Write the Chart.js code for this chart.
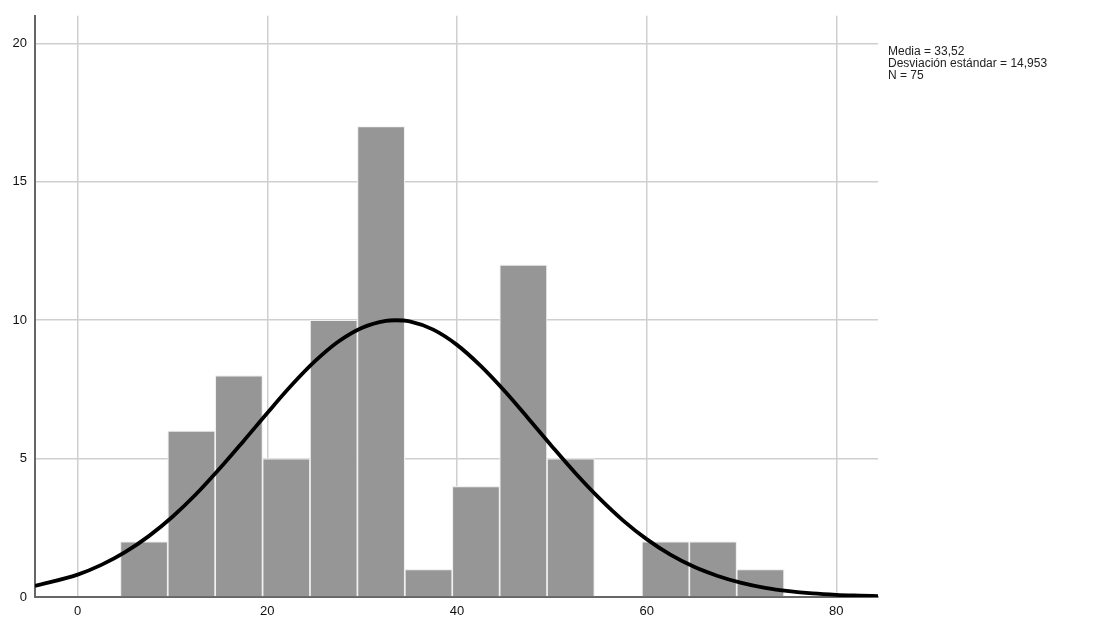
<!DOCTYPE html>
<html>
<head>
<meta charset="utf-8">
<script src="https://cdn.jsdelivr.net/npm/chart.js@4"></script>
<style>
body { margin: 0; background: #fff; }
#wrap { position: relative; width: 1105px; height: 619px; }
#stats { position: absolute; left: 888px; top: 45px; font: 12px "Liberation Sans", Arial, sans-serif; color: #222; line-height: 12px; }
</style>
</head>
<body>
<div id="wrap">
<canvas id="myChart" width="1105" height="619"></canvas>
<div id="stats">Media = 33,52<br>Desviación estándar = 14,953<br>N = 75</div>
</div>
<script>
// histogram bins (centres, width 5) and counts
var binCenters = [7, 12, 17, 22, 27, 32, 37, 42, 47, 52, 57, 62, 67, 72];
var counts = [2, 6, 8, 5, 10, 17, 1, 4, 12, 5, 0, 2, 2, 1];

// normal curve
var curveX = [-4.5, 0, 2.5, 5, 7.5, 10, 12.5, 15, 17.5, 20, 22.5, 25, 27.5, 30, 32.5, 33.5, 35, 37.5, 40, 42.5, 45, 47.5, 50, 52.5, 55, 57.5, 60, 62.5, 65, 67.5, 70, 72.5, 75, 77.5, 80, 82.5, 84.4];
var curveY = [0.4, 0.81, 1.16, 1.62, 2.2, 2.9, 3.72, 4.65, 5.64, 6.65, 7.63, 8.51, 9.23, 9.73, 9.98, 10.0, 9.96, 9.66, 9.11, 8.35, 7.45, 6.46, 5.45, 4.47, 3.57, 2.77, 2.09, 1.53, 1.09, 0.76, 0.51, 0.33, 0.21, 0.13, 0.08, 0.05, 0.03];

var xTicks = [0, 20, 40, 60, 80];
var yTicks = [0, 5, 10, 15, 20];

var barData = binCenters.map(function (c, i) { return { x: c, y: counts[i] }; });
var lineData = curveX.map(function (c, i) { return { x: c, y: curveY[i] }; });

var tickFont = { family: '"Liberation Sans", Arial, sans-serif', size: 13 };

var myChart = new Chart(document.getElementById('myChart'), {
    type: 'bar',
    data: {
        datasets: [{
            type: 'line',
            data: lineData,
            borderColor: '#000',
            borderWidth: 3.8,
            pointRadius: 0,
            tension: 0.4,
            cubicInterpolationMode: 'monotone',
            order: 0
        }, {
            type: 'bar',
            data: barData,
            backgroundColor: 'rgb(150,150,150)',
            borderColor: 'rgb(240,240,240)',
            borderWidth: 1.2,
            barPercentage: 1,
            categoryPercentage: 1,
            order: 1
        }]
    },
    options: {
        responsive: false,
        animation: false,
        layout: { padding: { left: 0, top: 15, right: 227, bottom: 0 } },
        plugins: { legend: { display: false }, tooltip: { enabled: false } },
        scales: {
            x: {
                type: 'linear',
                min: -4.5,
                max: 84.4,
                offset: false,
                afterBuildTicks: function (s) { s.ticks = xTicks.map(function (v) { return { value: v }; }); },
                afterFit: function (s) { s.height = 22; },
                grid: { color: '#cfcfcf', lineWidth: 1.5, drawTicks: false, offset: false },
                border: { color: '#666', width: 2 },
                ticks: { color: '#111', font: tickFont, padding: 7, maxRotation: 0 }
            },
            y: {
                min: 0,
                max: 21,
                afterBuildTicks: function (s) { s.ticks = yTicks.map(function (v) { return { value: v }; }); },
                afterFit: function (s) { s.width = 35; },
                grid: { color: '#cfcfcf', lineWidth: 1.5, drawTicks: false },
                border: { color: '#666', width: 2 },
                ticks: { color: '#111', font: tickFont, padding: 8 }
            }
        }
    }
});
</script>
</body>
</html>
